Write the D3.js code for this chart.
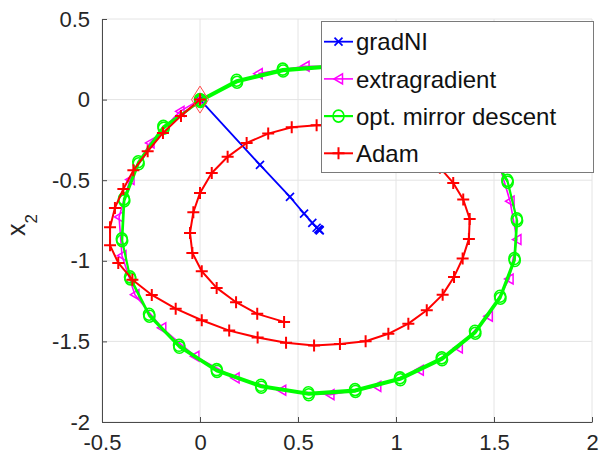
<!DOCTYPE html>
<html><head><meta charset="utf-8">
<script src="https://cdn.jsdelivr.net/npm/d3@7"></script>
<style>body{margin:0;background:#fff}svg{display:block}text{font-family:"Liberation Sans",Arial,Helvetica,sans-serif}</style>
</head><body><svg id="c" width="601" height="454"></svg>
<script>
// ---- data ----
const xTicks = [-0.5, 0, 0.5, 1, 1.5, 2];
const yTicks = [-2, -1.5, -1, -0.5, 0, 0.5];
const seriesNames = ["gradNI", "extragradient", "opt. mirror descent", "Adam"];
const startPoint = [[0, 0]];

const gradNI = [[0,0],[0.306,-0.405],[0.459,-0.604],[0.531,-0.707],[0.573,-0.765],[0.595,-0.795],[0.604,-0.803],[0.609,-0.808],[0.611,-0.811]];

const extragradient = [[0,0],[-0.102,-0.073],[-0.255,-0.269],[-0.357,-0.496],[-0.413,-0.728],[-0.398,-0.968],[-0.332,-1.210],
  [-0.195,-1.416],[-0.026,-1.592],[0.179,-1.726],[0.417,-1.803],[0.663,-1.830],[0.902,-1.779],[1.119,-1.679],[1.318,-1.540],
  [1.471,-1.344],[1.577,-1.113],[1.617,-0.868],[1.582,-0.630],[1.520,-0.378],[1.388,-0.161],[1.214,0.012],[1.005,0.136],
  [0.781,0.205],[0.536,0.207],[0.297,0.161]];

const omdLap1 = [[0,0],[0.187,0.120],[0.422,0.189],[0.663,0.211],[0.893,0.174],[1.112,0.074],[1.301,-0.074],[1.454,-0.267],
  [1.568,-0.501],[1.616,-0.740],[1.604,-0.986],[1.531,-1.220],[1.403,-1.437],[1.233,-1.602],[1.020,-1.726],[0.791,-1.799],
  [0.553,-1.819],[0.311,-1.772],[0.085,-1.675],[-0.107,-1.524],[-0.260,-1.332],[-0.357,-1.100],[-0.399,-0.864],[-0.388,-0.616],
  [-0.315,-0.386],[-0.187,-0.166]];
const omdLap2 = [[0.002,-0.012],[0.189,0.108],[0.424,0.177],[0.665,0.199],[0.895,0.162],[1.114,0.062],[1.303,-0.086],[1.456,-0.279],
  [1.570,-0.513],[1.618,-0.752],[1.606,-0.998],[1.533,-1.232],[1.405,-1.449],[1.235,-1.614],[1.022,-1.738],[0.793,-1.811],
  [0.555,-1.831],[0.313,-1.784],[0.087,-1.687],[-0.105,-1.536],[-0.258,-1.344],[-0.355,-1.112],[-0.397,-0.876],[-0.386,-0.628],
  [-0.313,-0.398],[-0.185,-0.178],[0.004,-0.006]];

const adam = [[0,0],[-0.097,-0.101],[-0.189,-0.207],[-0.267,-0.321],[-0.340,-0.439],[-0.391,-0.554],[-0.434,-0.672],[-0.459,-0.792],
  [-0.459,-0.904],[-0.417,-1.013],[-0.345,-1.117],[-0.246,-1.212],[-0.124,-1.297],[0.009,-1.369],[0.149,-1.433],[0.294,-1.476],
  [0.439,-1.509],[0.582,-1.526],[0.714,-1.516],[0.845,-1.499],[0.961,-1.453],[1.063,-1.390],[1.157,-1.307],[1.238,-1.210],
  [1.296,-1.100],[1.340,-0.986],[1.372,-0.864],[1.376,-0.740],[1.343,-0.620],[1.292,-0.517],[1.224,-0.422],[1.143,-0.335],
  [1.046,-0.267],[0.939,-0.211],[0.821,-0.174],[0.704,-0.158],[0.595,-0.159],[0.468,-0.172],[0.348,-0.211],[0.238,-0.269],
  [0.141,-0.355],[0.060,-0.455],[0,-0.579],[-0.034,-0.699],[-0.051,-0.827],[-0.039,-0.951],[0.009,-1.065],[0.085,-1.168],
  [0.184,-1.257],[0.292,-1.329],[0.429,-1.379]];

// ---- layout ----
const svg = d3.select("#c");
const L = 102, R = 592, T = 19, B = 422;
const x = d3.scaleLinear().domain([-0.5, 2]).range([L, R]);
const y = d3.scaleLinear().domain([-2, 0.5]).range([B, T]);
const FONT = 22;

// grid
const grid = svg.append("g");
grid.selectAll("line.gx").data(xTicks).join("line").attr("x1", d=>x(d)).attr("x2", d=>x(d)).attr("y1", T).attr("y2", B)
  .attr("stroke", "#e4e4e4").attr("stroke-width", 1);
grid.selectAll("line.gy").data(yTicks).join("line").attr("y1", d=>y(d)).attr("y2", d=>y(d)).attr("x1", L).attr("x2", R)
  .attr("stroke", "#e4e4e4").attr("stroke-width", 1);

// axes
const fmt = d => String(d);
const ax = svg.append("g").attr("transform", `translate(0,${B})`)
  .call(d3.axisBottom(x).tickValues(xTicks).tickFormat(fmt).tickSizeInner(-5).tickSizeOuter(0).tickPadding(12));
const ay = svg.append("g").attr("transform", `translate(${L},0)`)
  .call(d3.axisLeft(y).tickValues(yTicks).tickFormat(fmt).tickSizeInner(-5).tickSizeOuter(0).tickPadding(12));
[ax, ay].forEach(g => {
  g.select(".domain").attr("stroke", "#4a4a4a").attr("stroke-width", 1);
  g.selectAll(".tick line").attr("stroke", "#4a4a4a");
  g.selectAll(".tick text").attr("fill", "#262626").style("font-size", FONT + "px");
});
ax.selectAll(".tick text").attr("dy", "0.71em");

// y label
const yl = svg.append("text").attr("transform", "translate(25,236) rotate(-90)").attr("fill", "#262626")
  .style("font-size", "25px");
yl.append("tspan").text("x");
yl.append("tspan").attr("dy", 12).style("font-size", "17px").text("2");

const line = d3.line().x(d => x(d[0])).y(d => y(d[1]));
const plot = svg.append("g");

// marker shapes
const markers = {
  x: (g, c) => g.append("path").attr("d", "M-4,-4L4,4M-4,4L4,-4").attr("stroke", c).attr("stroke-width", 1.7).attr("fill", "none"),
  tri: (g, c) => g.append("path").attr("d", "M-4.5,0L4,-5L4,5Z").attr("stroke", c).attr("stroke-width", 1.5).attr("fill", "none"),
  circ: (g, c) => g.append("ellipse").attr("rx", 5.5).attr("ry", 6).attr("stroke", c).attr("stroke-width", 1.6).attr("fill", "none"),
  plus: (g, c) => g.append("path").attr("d", "M-6,0L6,0M0,-6L0,6").attr("stroke", c).attr("stroke-width", 2).attr("fill", "none")
};

function drawSeries(data, color, lw, mk) {
  plot.append("path").datum(data).attr("d", line).attr("fill", "none").attr("stroke", color)
    .attr("stroke-width", lw).attr("stroke-linejoin", "round");
  plot.selectAll(null).data(data).join("g").attr("transform", d => `translate(${x(d[0])},${y(d[1])})`)
    .each(function() { markers[mk](d3.select(this), color); });
}

drawSeries(gradNI, "#0000ff", 1.8, "x");
drawSeries(extragradient, "#ff00ff", 1.6, "tri");
drawSeries(omdLap1.concat(omdLap2), "#00ff00", 2.2, "circ");
drawSeries(adam, "#ff0000", 2, "plus");

// start marker (diamond)
plot.selectAll(null).data(startPoint).join("path")
  .attr("transform", d => `translate(${x(d[0])},${y(d[1])})`)
  .attr("d", "M0,-13.5L8.5,0L0,13.5L-8.5,0Z").attr("fill", "none").attr("stroke", "#ff4a4a").attr("stroke-width", 1);

// legend
const lg = svg.append("g");
lg.append("rect").attr("x", 321.5).attr("y", 21.5).attr("width", 272).attr("height", 151)
  .attr("fill", "#fff").attr("stroke", "#7a7a7a").attr("stroke-width", 1);
const legColors = ["#0000ff", "#ff00ff", "#00ff00", "#ff0000"];
const legMk = ["x", "tri", "circ", "plus"];
const legLw = [1.8, 1.6, 2.2, 2];
seriesNames.forEach((name, i) => {
  const cy = 41.7 + i * 37.2;
  lg.append("line").attr("x1", 324).attr("x2", 353).attr("y1", cy).attr("y2", cy)
    .attr("stroke", legColors[i]).attr("stroke-width", legLw[i]);
  markers[legMk[i]](lg.append("g").attr("transform", `translate(338.5,${cy})`), legColors[i]);
  lg.append("text").attr("x", 356).attr("y", cy).attr("dy", "0.36em").attr("fill", "#111")
    .style("font-size", "24px").text(name);
});
</script></body></html>
